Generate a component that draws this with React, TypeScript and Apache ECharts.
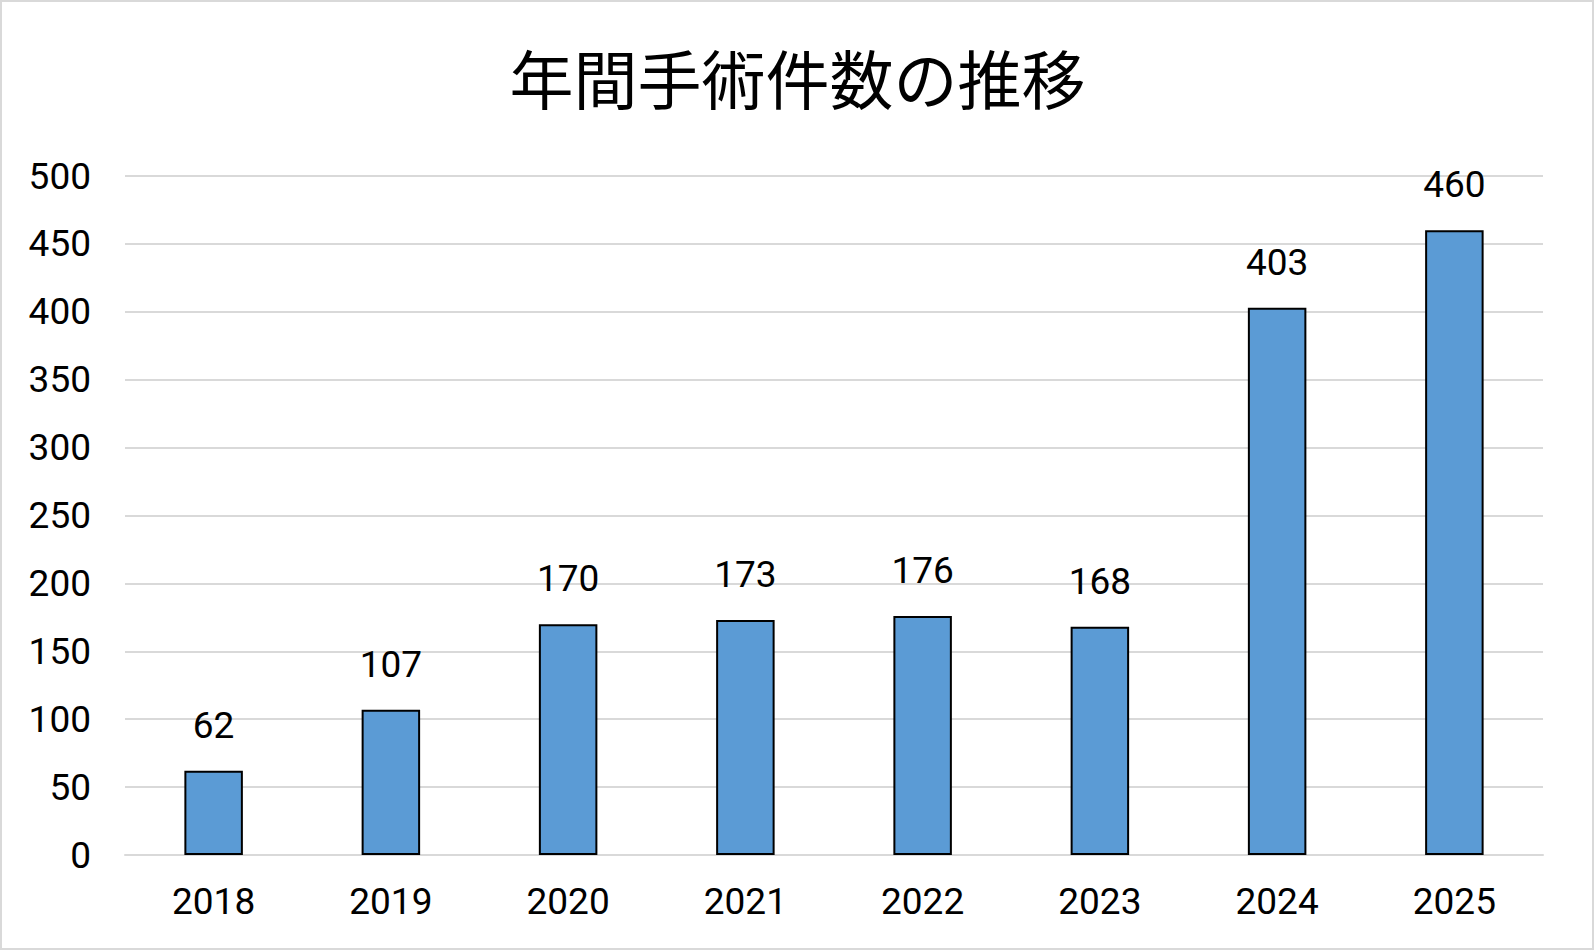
import React, { useEffect, useRef } from "react";
import * as echarts from "echarts";

const title = "年間手術件数の推移";
const categories = ["2018", "2019", "2020", "2021", "2022", "2023", "2024", "2025"];
const values = [62, 107, 170, 173, 176, 168, 403, 460];

export default function App() {
  const ref = useRef<HTMLDivElement>(null);
  useEffect(() => {
    document.body.style.margin = "0";
    const chart = echarts.init(ref.current!, null, { renderer: "svg" });
    const numFont = "Roboto, 'Noto Sans CJK JP', sans-serif";
    chart.setOption({
      animation: false,
      backgroundColor: "#ffffff",
      title: {
        text: title,
        left: "center",
        top: 39,
        textStyle: {
          fontFamily: "'Noto Sans CJK JP', sans-serif",
          fontSize: 64,
          fontWeight: "normal",
          color: "#000000",
        },
      },
      graphic: [
        {
          type: "rect",
          shape: { x: 1, y: 1, width: 1592, height: 948 },
          style: { fill: "none", stroke: "#d9d9d9", lineWidth: 2 },
          silent: true,
        },
      ],
      grid: { left: 125, right: 52, top: 176, bottom: 96 },
      xAxis: {
        type: "category",
        data: categories,
        axisTick: { show: false },
        axisLine: { show: true, lineStyle: { color: "#d9d9d9", width: 2 } },
        axisLabel: {
          margin: 28,
          fontSize: 37,
          fontFamily: numFont,
          color: "#000000",
        },
      },
      yAxis: {
        type: "value",
        min: 0,
        max: 500,
        interval: 50,
        axisLine: { show: false },
        axisTick: { show: false },
        splitLine: { lineStyle: { color: "#d9d9d9", width: 2 } },
        axisLabel: {
          margin: 34,
          fontSize: 37,
          fontFamily: numFont,
          color: "#000000",
        },
      },
      series: [
        {
          type: "bar",
          data: values,
          barWidth: "33%",
          itemStyle: { color: "#5b9bd5", borderColor: "#000000", borderWidth: 2 },
          label: {
            show: true,
            position: "top",
            distance: 27,
            fontSize: 37,
            fontFamily: numFont,
            color: "#000000",
          },
        },
      ],
    });
    return () => chart.dispose();
  }, []);
  return <div ref={ref} style={{ width: 1595, height: 951 }} />;
}
